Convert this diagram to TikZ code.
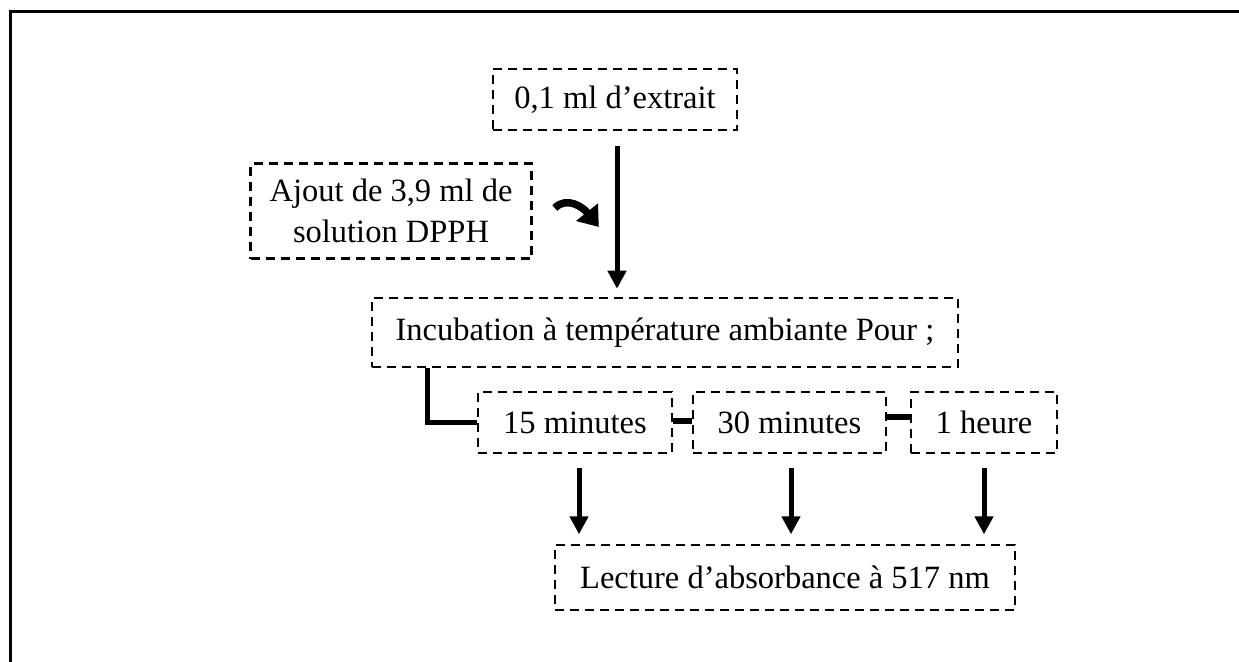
\documentclass[tikz,border=0pt]{standalone}
\usepackage{fontspec}
\setmainfont{Liberation Serif}
\usetikzlibrary{arrows.meta,calc}
\begin{document}
\begin{tikzpicture}[x=1pt,y=-1pt,
  box/.style={draw, dash pattern=on 9pt off 6pt, line width=2.6pt, inner sep=0pt,
    font=\fontsize{32.5}{41.5}\selectfont, align=center},
  flow/.style={line width=5pt, -{Triangle[length=18pt,width=18pt]}},
  link/.style={line width=5.5pt, line join=miter}]
\useasboundingbox (0,0) rectangle (1239,661);
% frame (top and left edges)
\draw[line width=2.7pt] (10.5,670) -- (10.5,11.3) -- (1250,11.3);

% steps
\node[box, minimum width=244pt, minimum height=61pt] (b1) at (615,99.5) {0,1 ml d’extrait};
\node[box, minimum width=281pt, minimum height=95pt] (b2) at (391,211) {Ajout de 3,9 ml de\\ solution DPPH};
\node[box, minimum width=586pt, minimum height=69pt] (b3) at (665,332.5) {Incubation à température ambiante Pour ;};
\node[box, minimum width=194pt, minimum height=61pt] (b15) at (575,422.5) {15 minutes};
\node[box, minimum width=193pt, minimum height=61pt] (b30) at (789.5,422.5) {30 minutes};
\node[box, minimum width=146pt, minimum height=61pt] (b60) at (984,422.5) {1 heure};
\node[box, minimum width=460pt, minimum height=65pt] (bL) at (785,577.5) {Lecture d’absorbance à 517 nm};

% main flow
\draw[flow] ($(b1.south)+(2,15)$) -- ($(b3.north)+(-48,-8)$);
% reagent addition arrow
\draw[line width=7.5pt, -{Triangle[length=19pt,width=27pt]}]
  ($(b2.east)+(22,-3)$) .. controls ($(b2.east)+(34,-15)$) and ($(b2.east)+(50,-4)$) .. ($(b2.east)+(66,16)$);

% incubation times
\draw[link] ($(b3.south west)+(57,0)$) |- (b15.west);
\draw[link] ($(b15.east)+(0,-1.5)$) -- ($(b30.west)+(0,-1.5)$);
\draw[link] ($(b30.east)+(0,-5.5)$) -- ($(b60.west)+(0,-5.5)$);

% readings
\draw[flow] ($(b15.south)+(4,14)$) -- ($(b15.south)+(4,80)$);
\draw[flow] ($(b30.south)+(1.5,14)$) -- ($(b30.south)+(1.5,80)$);
\draw[flow] ($(b60.south)+(0,14)$) -- ($(b60.south)+(0,80)$);
\end{tikzpicture}
\end{document}
